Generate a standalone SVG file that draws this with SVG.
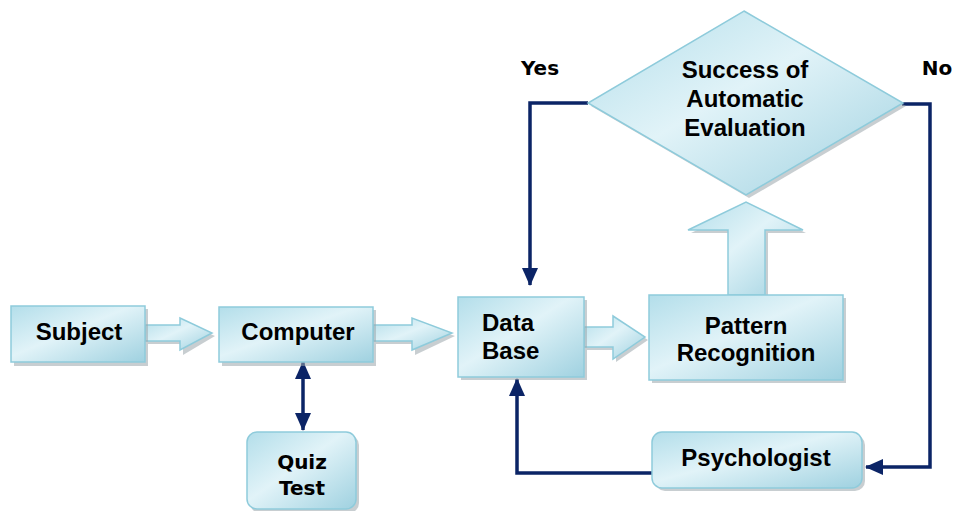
<svg xmlns="http://www.w3.org/2000/svg" width="954" height="511" viewBox="0 0 954 511">
<style>
.box{fill:url(#g);stroke:#8ecbdb;stroke-width:1.5}
.sh{fill:#9aa6ab;opacity:0.55}
.t{font-family:"Liberation Sans",Arial,sans-serif;font-weight:bold;font-size:24px;fill:#000}
.t2{font-family:"DejaVu Sans","Liberation Sans",sans-serif;font-weight:bold;font-size:20px;fill:#000}
.ln{fill:none;stroke:#0b2466;stroke-width:3.5}
</style>
<defs>
<linearGradient id="g" x1="0" y1="0" x2="1" y2="1">
<stop offset="0" stop-color="#b3deea"/>
<stop offset="0.45" stop-color="#e1f3f8"/>
<stop offset="1" stop-color="#9fd1e0"/>
</linearGradient>
<marker id="ah" markerUnits="userSpaceOnUse" markerWidth="18" markerHeight="18" viewBox="0 0 18 18" refX="17" refY="9" orient="auto-start-reverse">
<path d="M0,1 L18,9 L0,17 z" fill="#0b2466"/>
</marker>
</defs>
<rect width="954" height="511" fill="#fff"/>

<g id="connectors">
<path class="ln" d="M588,103 H530 V285" marker-end="url(#ah)"/>
<path class="ln" d="M902,104 H930 V467 H866" marker-end="url(#ah)"/>
<path class="ln" d="M652,473 H517 V379" marker-end="url(#ah)"/>
<path class="ln" d="M303,362 V430" marker-start="url(#ah)" marker-end="url(#ah)"/>
<g id="arrow-subject-computer">
<path class="sh" d="M148,328 H183 V322 L215,336 L183,355 V344 H148 z"/>
<path class="box" d="M145,325 H180 V318 L212,333 L180,350 V341 H145 z"/>
</g>
<g id="arrow-computer-database">
<path class="sh" d="M376,328 H415 V322 L455,336 L415,355 V344 H376 z"/>
<path class="box" d="M373,325 H412 V318 L452,333 L412,350 V341 H373 z"/>
</g>
<g id="arrow-database-pattern">
<path class="sh" d="M587,330 H616 V319 L648,340 L616,362 V350 H587 z"/>
<path class="box" d="M584,327 H613 V316 L645,337 L613,359 V347 H584 z"/>
</g>
<g id="arrow-pattern-decision">
<path class="sh" d="M731,298 V233 H691 L749,205 L806,233 H768 V298 z"/>
<path class="box" d="M728,295 V230 H688 L746,202 L803,230 H765 V295 z"/>
</g>
</g>

<g id="subject">
<rect class="sh" x="14" y="309" width="134" height="57"/>
<rect class="box" x="11" y="306" width="134" height="56"/>
<text class="t" x="79" y="340" text-anchor="middle">Subject</text>
</g>
<g id="computer">
<rect class="sh" x="222" y="310" width="154" height="56"/>
<rect class="box" x="219" y="307" width="154" height="55"/>
<text class="t" x="298" y="340" text-anchor="middle">Computer</text>
</g>
<g id="quiz-test">
<rect class="sh" x="250" y="435" width="109" height="78" rx="10"/>
<rect class="box" x="247" y="432" width="109" height="77" rx="10"/>
<text class="t2" x="302" y="469" text-anchor="middle">Quiz</text>
<text class="t2" x="302" y="495" text-anchor="middle">Test</text>
</g>
<g id="database">
<rect class="sh" x="461" y="300" width="126" height="80"/>
<rect class="box" x="458" y="297" width="126" height="80"/>
<text class="t" x="482" y="331">Data</text>
<text class="t" x="482" y="359">Base</text>
</g>
<g id="pattern-recognition">
<rect class="sh" x="652" y="298" width="194" height="85"/>
<rect class="box" x="649" y="295" width="194" height="85"/>
<text class="t" x="746" y="334" text-anchor="middle">Pattern</text>
<text class="t" x="746" y="361" text-anchor="middle">Recognition</text>
</g>
<g id="psychologist">
<rect class="sh" x="655" y="435" width="210" height="56" rx="10"/>
<rect class="box" x="652" y="432" width="210" height="56" rx="10"/>
<text class="t" x="756" y="466" text-anchor="middle">Psychologist</text>
</g>
<g id="decision">
<path class="sh" d="M747,14 L906,106 L749,198 L591,106 z"/>
<path class="box" d="M744,11 L903,103 L746,195 L588,103 z"/>
<text class="t" x="745" y="78" text-anchor="middle">Success of</text>
<text class="t" x="745" y="107" text-anchor="middle">Automatic</text>
<text class="t" x="745" y="136" text-anchor="middle">Evaluation</text>
</g>
<text class="t2" x="540" y="75" text-anchor="middle">Yes</text>
<text class="t2" x="937" y="75" text-anchor="middle">No</text>
</svg>
